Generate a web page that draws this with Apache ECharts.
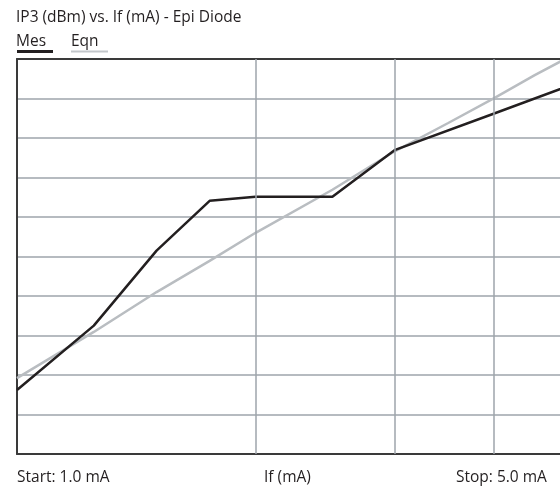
<!DOCTYPE html>
<html>
<head>
<meta charset="utf-8">
<script src="https://cdn.jsdelivr.net/npm/echarts@6/dist/echarts.min.js"></script>
<style>html,body{margin:0;padding:0;background:#fff}#c{width:560px;height:487px}</style>
</head>
<body>
<div id="c"></div>
<script>
// Data (y in grid divisions, no y labels shown)
const mesIf = [1.0, 1.25, 1.5, 1.75, 2.0, 2.5, 3.0, 4.0, 5.0];
const mesValues = [1.62, 3.25, 5.15, 6.41, 6.51, 6.51, 7.70, 8.62, 9.34];
const eqnIf = [1.0, 1.25, 1.5, 1.75, 2.0, 2.5, 3.0, 3.5, 4.0, 4.5, 5.0];
const eqnValues = [1.92, 3.09, 4.10, 4.89, 5.60, 6.69, 7.67, 8.38, 9.01, 9.59, 10.08];
const xGridValues = [2, 3, 4];
const titleText = 'IP3 (dBm) vs. If (mA) - Epi Diode';
const seriesNames = ['Mes', 'Eqn'];
const startLabel = 'Start: 1.0 mA';
const axisLabel = 'If (mA)';
const stopLabel = 'Stop: 5.0 mA';

const FONT = '"Open Sans"';
const FS = '15.5px ';
const chart = echarts.init(document.getElementById('c'), null, {renderer: 'canvas'});
const pair = (xs, ys) => xs.map((x, i) => [x, ys[i]]);
const gridCol = '#9ea4ab';
const frameCol = '#3a3a3a';
const txt = '#231f20';

chart.setOption({
  animation: false,
  backgroundColor: '#fff',
  grid: {left: 17, right: -11, top: 59, bottom: 33, outerBoundsMode: 'none', containLabel: false},
  xAxis: [
    {type: 'log', logBase: 10, min: 1, max: 5,
     axisLine: {show: true, lineStyle: {color: frameCol, width: 2}},
     axisTick: {show: false}, axisLabel: {show: false}, splitLine: {show: false}},
    {type: 'value', position: 'top', min: 0, max: 1,
     axisLine: {show: true, lineStyle: {color: frameCol, width: 2}},
     axisTick: {show: false}, axisLabel: {show: false}, splitLine: {show: false}}
  ],
  yAxis: {type: 'value', min: 0, max: 10, interval: 1,
    axisLine: {show: true, lineStyle: {color: frameCol, width: 2}},
    axisTick: {show: false}, axisLabel: {show: false},
    splitLine: {show: true, lineStyle: {color: gridCol, width: 1.5}}},
  series: [
    {type: 'line', name: 'vgrid', data: [], z: 1, silent: true,
     markLine: {silent: true, symbol: ['none', 'none'], label: {show: false},
       lineStyle: {color: gridCol, width: 1.5, type: 'solid'},
       data: xGridValues.map(v => ({xAxis: v}))}},
    {type: 'line', name: seriesNames[1], data: pair(eqnIf, eqnValues), z: 3,
     symbol: 'none', lineStyle: {color: '#b9bdc1', width: 2.5}, clip: true},
    {type: 'line', name: seriesNames[0], data: pair(mesIf, mesValues), z: 4,
     symbol: 'none', lineStyle: {color: '#231f20', width: 2.5}, clip: true}
  ],
  graphic: [
    {type: 'text', left: 16, top: 10, style: {text: titleText, font: FS + FONT, fill: txt}},
    {type: 'text', left: 16, top: 33.5, style: {text: seriesNames[0], font: FS + FONT, fill: txt}},
    {type: 'rect', shape: {x: 17, y: 50, width: 36, height: 3}, style: {fill: '#231f20'}},
    {type: 'text', left: 71, top: 33.5, style: {text: seriesNames[1], font: FS + FONT, fill: txt}},
    {type: 'rect', shape: {x: 71, y: 50.5, width: 37, height: 2}, style: {fill: '#c3c7cb'}},
    {type: 'text', left: 17, top: 469.5, style: {text: startLabel, font: FS + FONT, fill: txt}},
    {type: 'text', left: 264, top: 469.5, style: {text: axisLabel, font: FS + FONT, fill: txt}},
    {type: 'text', left: 456, top: 469.5, style: {text: stopLabel, font: FS + FONT, fill: txt}}
  ]
});
</script>
</body>
</html>
